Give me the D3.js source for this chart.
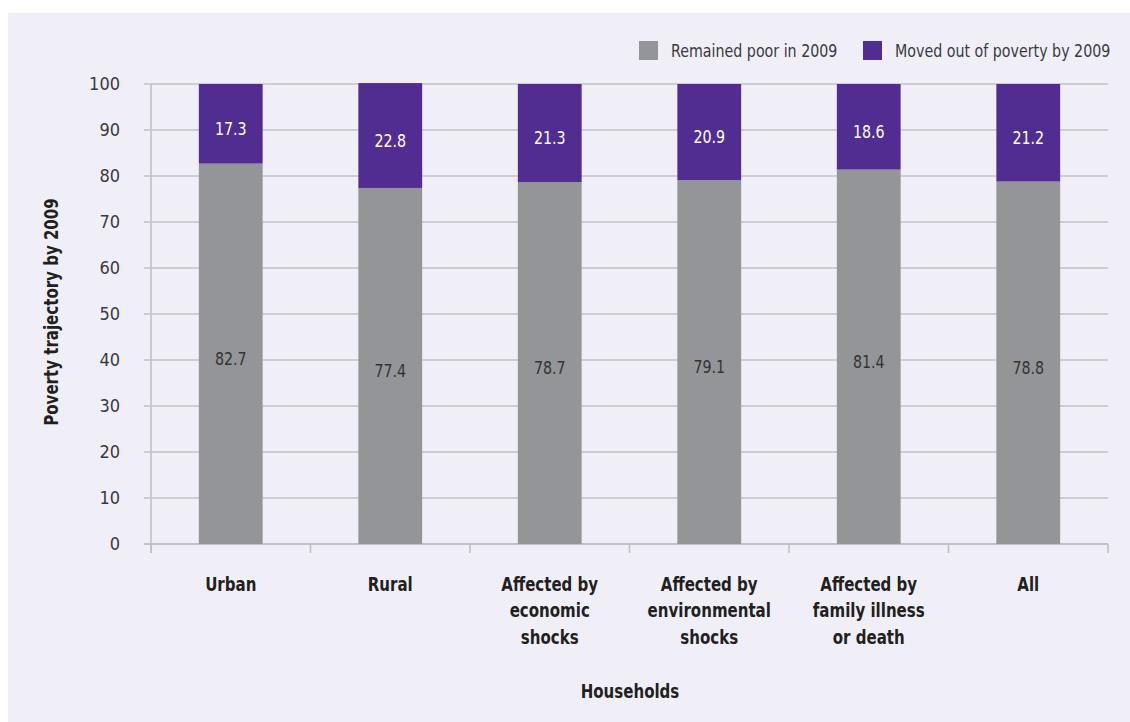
<!DOCTYPE html>
<html>
<head>
<meta charset="utf-8">
<script src="https://cdn.jsdelivr.net/npm/d3@7"></script>
<style>
  html, body { margin: 0; padding: 0; background: #ffffff; }
  svg { display: block; }
  text { font-family: "Liberation Sans Narrow", "DejaVu Sans Condensed", "Arial Narrow", sans-serif; }
</style>
</head>
<body>
<svg id="chart" width="1130" height="722"></svg>
<script>
// Household groups (each label is split into its display lines)
const categories = [
  ["Urban"],
  ["Rural"],
  ["Affected by", "economic", "shocks"],
  ["Affected by", "environmental", "shocks"],
  ["Affected by", "family illness", "or death"],
  ["All"]
];
const remainedPoor = [82.7, 77.4, 78.7, 79.1, 81.4, 78.8];
const movedOut = [17.3, 22.8, 21.3, 20.9, 18.6, 21.2];
const seriesNames = ["Remained poor in 2009", "Moved out of poverty by 2009"];
const yTicks = [0, 10, 20, 30, 40, 50, 60, 70, 80, 90, 100];

const colors = ["#939598", "#512d91"];
const W = 1130, H = 722;
const margin = { left: 151, right: 22, top: 84, bottom: 178 };
const narrow = 0.88; // horizontal squeeze for the condensed look

const svg = d3.select("#chart");

// panel background
svg.append("rect")
  .attr("x", 8).attr("y", 13)
  .attr("width", W - 8).attr("height", H - 13)
  .attr("fill", "#f0eff8");

const keys = categories.map((c, i) => "c" + i);
const x = d3.scaleBand()
  .domain(keys)
  .range([margin.left, W - margin.right])
  .paddingInner(0.6)
  .paddingOuter(0.3);

const y = d3.scaleLinear()
  .domain([0, 100])
  .range([H - margin.bottom, margin.top]);

// horizontal gridlines
svg.append("g")
  .selectAll("line")
  .data(yTicks)
  .join("line")
  .attr("x1", margin.left - 7)
  .attr("x2", W - margin.right)
  .attr("y1", d => y(d))
  .attr("y2", d => y(d))
  .attr("stroke", "#c3c2c9")
  .attr("stroke-width", 1.5);

// y axis
const yAxis = svg.append("g")
  .attr("transform", `translate(${margin.left},0)`)
  .call(d3.axisLeft(y).tickValues(yTicks).tickSize(0).tickPadding(31));
yAxis.select(".domain")
  .attr("stroke", "#bdbcc3")
  .attr("stroke-width", 1.5)
  .attr("d", `M0,${y(100)}V${y(0) + 9}`);
yAxis.selectAll(".tick text")
  .attr("fill", "#3a3a3c")
  .attr("font-size", 18)
  .attr("dy", "0.3em");

// x axis baseline and category divider ticks
const step = x.step();
const bounds = d3.range(categories.length + 1).map(i => margin.left + i * step);
svg.append("g")
  .selectAll("line")
  .data(bounds)
  .join("line")
  .attr("x1", d => d).attr("x2", d => d)
  .attr("y1", y(0)).attr("y2", y(0) + 9)
  .attr("stroke", "#bdbcc3")
  .attr("stroke-width", 1.5);
svg.append("line")
  .attr("x1", margin.left - 7).attr("x2", W - margin.right)
  .attr("y1", y(0)).attr("y2", y(0))
  .attr("stroke", "#bdbcc3")
  .attr("stroke-width", 1.5);

// stacked bars
const rows = keys.map((k, i) => ({ key: k, poor: remainedPoor[i], moved: movedOut[i] }));
const stack = d3.stack().keys(["poor", "moved"])(rows);

const layers = svg.append("g")
  .selectAll("g")
  .data(stack)
  .join("g")
  .attr("fill", (d, i) => colors[i]);

layers.selectAll("rect")
  .data(d => d)
  .join("rect")
  .attr("x", d => x(d.data.key))
  .attr("width", x.bandwidth())
  .attr("y", d => y(d[1]))
  .attr("height", d => y(d[0]) - y(d[1]));

// value labels
layers.each(function (layer, li) {
  d3.select(this).selectAll("g")
    .data(layer)
    .join("g")
    .attr("transform", d => `translate(${x(d.data.key) + x.bandwidth() / 2},${(y(d[0]) + y(d[1])) / 2 + 5}) scale(${narrow},1)`)
    .append("text")
    .attr("dy", "0.35em")
    .attr("text-anchor", "middle")
    .attr("font-size", 18)
    .attr("fill", li === 0 ? "#333333" : "#ffffff")
    .text(d => d3.format(".1f")(d[1] - d[0]));
});

// category labels
const catG = svg.append("g")
  .selectAll("g")
  .data(categories)
  .join("g")
  .attr("transform", (d, i) => `translate(${x(keys[i]) + x.bandwidth() / 2},591) scale(${narrow},1)`)
  .append("text")
  .attr("text-anchor", "middle")
  .attr("font-size", 19)
  .attr("font-weight", "bold")
  .attr("fill", "#231f20");
catG.selectAll("tspan")
  .data(d => d)
  .join("tspan")
  .attr("x", 0)
  .attr("dy", (d, i) => i === 0 ? 0 : 26.5)
  .text(d => d);

// axis titles
svg.append("g")
  .attr("transform", `translate(630,698) scale(${narrow},1)`)
  .append("text")
  .attr("text-anchor", "middle")
  .attr("font-size", 19)
  .attr("font-weight", "bold")
  .attr("fill", "#231f20")
  .text("Households");

svg.append("g")
  .attr("transform", `translate(58,${(y(0) + y(100)) / 2 - 2}) rotate(-90) scale(${narrow},1)`)
  .append("text")
  .attr("text-anchor", "middle")
  .attr("font-size", 19)
  .attr("font-weight", "bold")
  .attr("fill", "#231f20")
  .text("Poverty trajectory by 2009");

// legend
const legendItems = [
  { x: 639, name: seriesNames[0], color: colors[0] },
  { x: 863, name: seriesNames[1], color: colors[1] }
];
const lg = svg.append("g")
  .selectAll("g")
  .data(legendItems)
  .join("g")
  .attr("transform", d => `translate(${d.x},41)`);
lg.append("rect")
  .attr("width", 19).attr("height", 19)
  .attr("fill", d => d.color);
lg.append("g")
  .attr("transform", `translate(32,10) scale(${narrow},1)`)
  .append("text")
  .attr("dy", "0.35em")
  .attr("font-size", 18)
  .attr("fill", "#3a3a3c")
  .text(d => d.name);
</script>
</body>
</html>
